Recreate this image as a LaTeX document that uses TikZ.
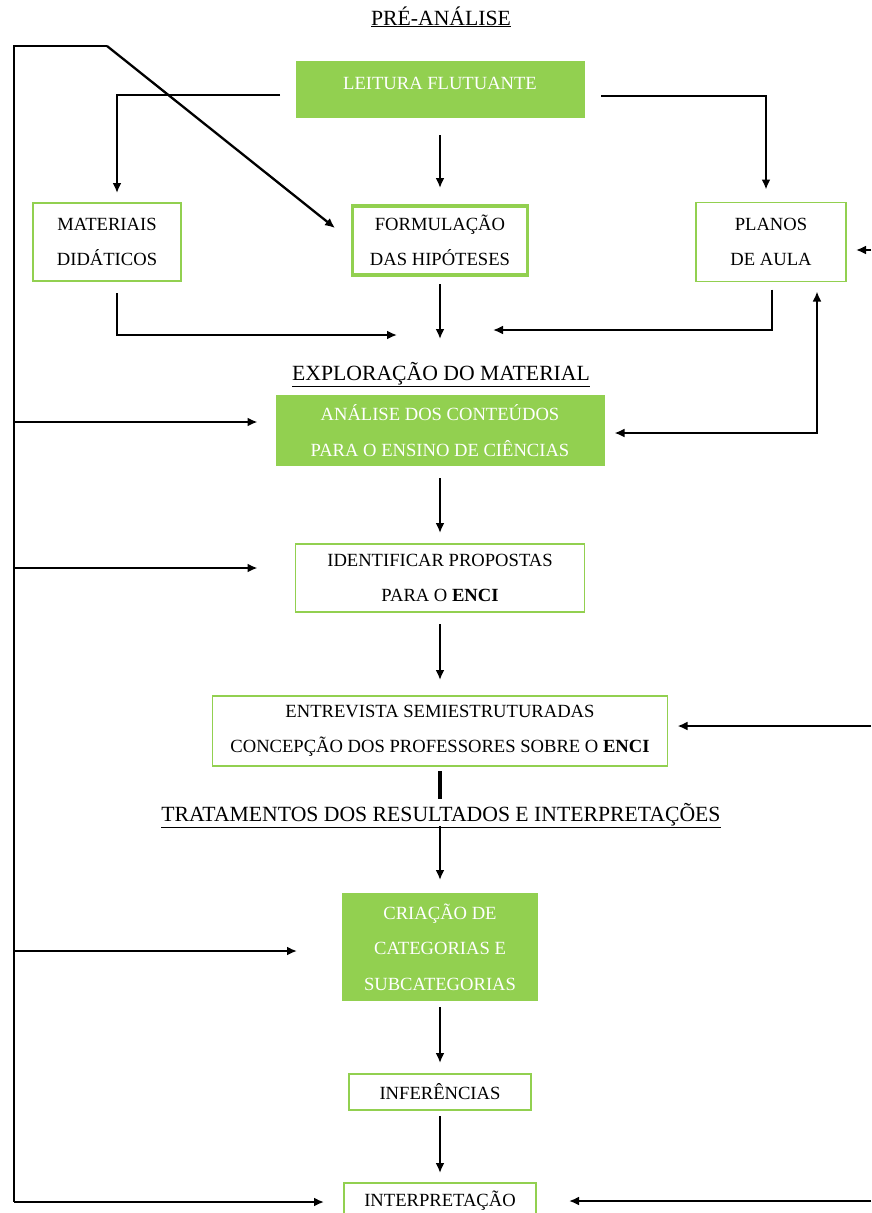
\documentclass[tikz,border=0pt]{standalone}
\usepackage{fontspec}
\setmainfont{Liberation Serif}
\usetikzlibrary{arrows.meta}
\definecolor{gr}{RGB}{146,208,80}
\begin{document}
\begin{tikzpicture}[x=1pt,y=-1pt,
  every node/.style={inner sep=0pt,outer sep=0pt},
  bx/.style={font=\fontsize{18.6}{35.5}\selectfont, align=center},
  fbox/.style={bx, fill=gr, text=white},
  obox/.style={bx, draw=gr, line width=1.8pt, fill=white},
  hd/.style={font=\fontsize{21.7}{26}\selectfont, anchor=base},
  ln/.style={line width=2.3pt},
  arr/.style={ln, -{Latex[length=10pt,width=9pt]}},
  barr/.style={ln, {Latex[length=10pt,width=9pt]}-{Latex[length=10pt,width=9pt]}}
]
\useasboundingbox[fill=white] (0,0) rectangle (871,1213);

% headings
\node[hd] (pre) at (441,25) {\underline{PRÉ-ANÁLISE}};
\node[hd] (expl) at (441,380) {\underline{EXPLORAÇÃO DO MATERIAL}};
\node[hd] (trat) at (441,821) {\underline{TRATAMENTOS DOS RESULTADOS E INTERPRETAÇÕES}};

% boxes
\node[fbox, minimum width=289pt, minimum height=57pt] (leit) at (440,89.5) {};
\node[bx, text=white] (leitT) at (440,83) {LEITURA FLUTUANTE};
\node[obox, line width=1.5pt, minimum width=148pt, minimum height=78pt] (mat) at (107,242) {MATERIAIS\\DIDÁTICOS};
\node[obox, line width=3.3pt, minimum width=175pt, minimum height=69pt] (form) at (440,240.5) {FORMULAÇÃO\\DAS HIPÓTESES};
\node[obox, line width=1.5pt, minimum width=150pt, minimum height=79pt] (plan) at (771,242) {PLANOS\\DE AULA};
\node[fbox, minimum width=329pt, minimum height=71pt] (anal) at (440,430.5) {ANÁLISE DOS CONTEÚDOS\\PARA O ENSINO DE CIÊNCIAS};
\node[obox, minimum width=289pt, minimum height=68pt] (ident) at (440,578) {IDENTIFICAR PROPOSTAS\\PARA O \textbf{ENCI}};
\node[obox, minimum width=455pt, minimum height=70pt] (entr) at (440,731) {ENTREVISTA SEMIESTRUTURADAS\\CONCEPÇÃO DOS PROFESSORES SOBRE O \textbf{ENCI}};
\node[fbox, minimum width=196pt, minimum height=108pt] (cria) at (440,947) {CRIAÇÃO DE\\CATEGORIAS E\\SUBCATEGORIAS};
\node[obox, minimum width=182pt, minimum height=36pt] (infer) at (440,1092) {INFERÊNCIAS};
\node[obox, minimum width=192pt, minimum height=36pt] (interp) at (440,1201) {INTERPRETAÇÃO};

% coordinates
\coordinate (s0) at (14,46);
\coordinate (bend) at (107,46);
\coordinate (sA) at (14,422);
\coordinate (sI) at (14,568);
\coordinate (sC) at (14,951);
\coordinate (sE) at (14,1202);
\coordinate (dE) at (335,228);
\coordinate (bS) at (280,95);
\coordinate (cS) at (601,96);
\coordinate (mE) at (397,335);
\coordinate (fE) at (440,339);
\coordinate (gE) at (493,330);
\coordinate (hc) at (817,433);
\coordinate (rP) at (871,250);
\coordinate (rE) at (871,726);
\coordinate (rI) at (871,1201);
\coordinate (oE) at (440,799);
\coordinate (pS) at (440,826);

% connectors
\draw[ln] (bend) -- (s0) -- (sE);
\draw[arr] (bend) -- (dE);
\draw[arr, shorten >=10pt] (bS) -| ([xshift=10pt]mat.north);
\draw[arr, shorten >=13pt] (cS) -| ([xshift=-5pt]plan.north);
\draw[arr, shorten <=17pt, shorten >=18pt] (leit.south) -- (form.north);
\draw[arr, line width=2.8pt, shorten <=12pt] ([xshift=10pt]mat.south) |- (mE);
\draw[arr, shorten <=9pt] (form.south) -- (fE);
\draw[arr, line width=2.8pt, shorten <=8pt] ([xshift=1pt]plan.south) |- (gE);
\draw[barr, shorten <=10pt, shorten >=10pt] (plan.south -| hc) -- (hc) -- (hc -| anal.east);
\draw[arr, shorten >=10pt] (rP) -- (rP -| plan.east);
\draw[arr, shorten >=18pt] (sA) -- (sA -| anal.west);
\draw[arr, shorten <=12pt, shorten >=11pt] (anal.south) -- (ident.north);
\draw[arr, shorten >=38pt] (sI) -- (sI -| ident.west);
\draw[arr, shorten <=12pt, shorten >=16pt] (ident.south) -- (entr.north);
\draw[arr, shorten >=10pt] (rE) -- (rE -| entr.east);
\draw[line width=3.3pt, shorten <=5pt] (entr.south) -- (oE);
\draw[arr, shorten >=13pt] (pS) -- (cria.north);
\draw[arr, shorten >=45pt] (sC) -- (sC -| cria.west);
\draw[arr, shorten <=6pt, shorten >=11pt] (cria.south) -- (infer.north);
\draw[arr, shorten <=6pt, shorten >=10pt] (infer.south) -- (interp.north);
\draw[arr, shorten >=20pt] (sE) -- (sE -| interp.west);
\draw[arr, shorten >=33pt] (rI) -- (rI -| interp.east);
\end{tikzpicture}
\end{document}
